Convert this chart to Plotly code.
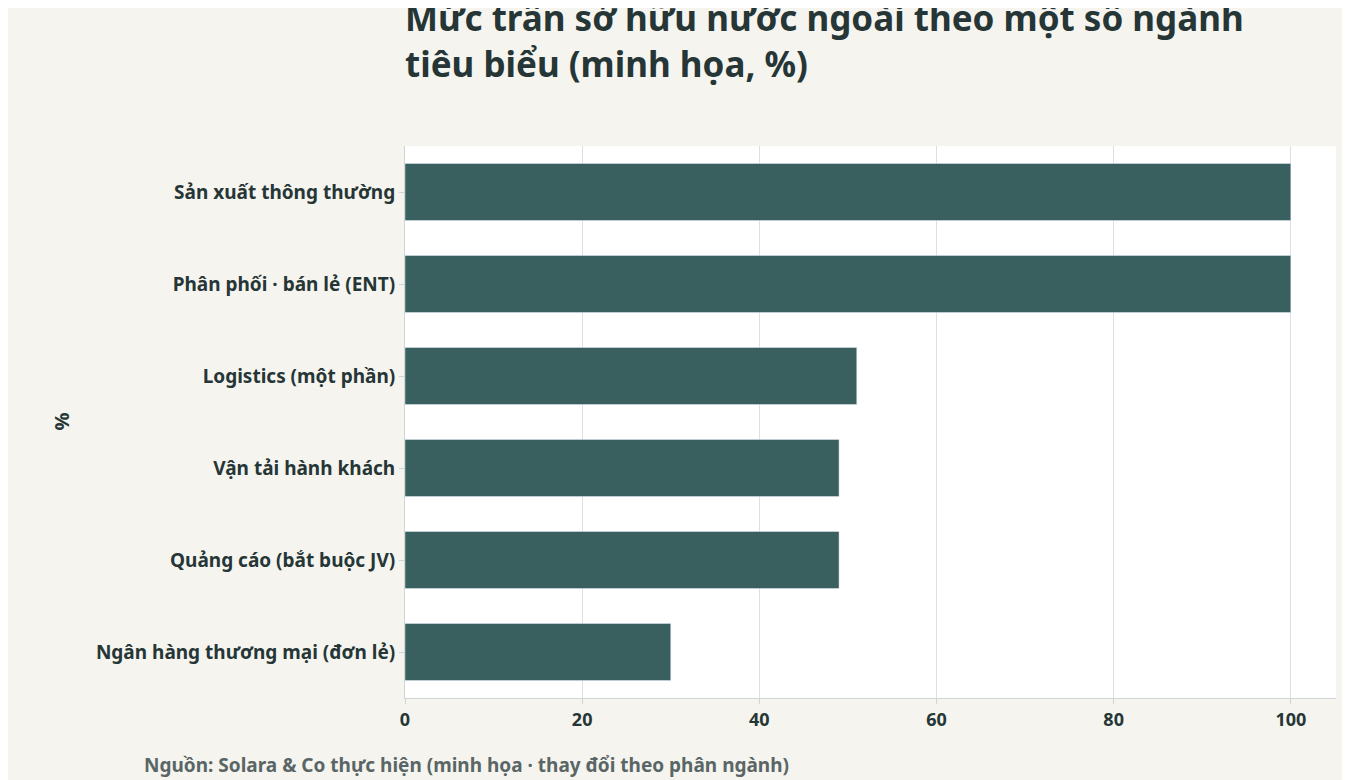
import plotly.graph_objects as go

categories = ["Ngân hàng thương mại (đơn lẻ)", "Quảng cáo (bắt buộc JV)", "Vận tải hành khách",
              "Logistics (một phần)", "Phân phối · bán lẻ (ENT)", "Sản xuất thông thường"]
values = [30, 49, 49, 51, 100, 100]

font = "Noto Sans, Open Sans, sans-serif"
ink = "#263636"

fig = go.Figure(go.Bar(x=values, y=categories, orientation="h",
                       marker_color="#3a5f5f", width=0.62))
fig.update_layout(
    width=1350, height=780,
    paper_bgcolor="#f5f4ef", plot_bgcolor="white",
    margin=dict(l=397, r=22, t=138, b=90),
    font=dict(family=font, color=ink, size=19),
    title=dict(text="<b>Mức trần sở hữu nước ngoài theo một số ngành<br>tiêu biểu (minh họa, %)</b>",
               x=397 / 1350, xanchor="left", y=0.97, yanchor="top",
               font=dict(size=35, color=ink)),
    showlegend=False,
)
fig.update_xaxes(range=[0, 105.1], dtick=20, showgrid=True, gridcolor="#dde0e0",
                 zeroline=False, ticks="outside", ticklen=5, tickcolor="#cfd4d4",
                 showline=True, linecolor="#cfd4d4",
                 tickfont=dict(size=18, color=ink, family=font), tickprefix="<b>", ticksuffix="</b>")
fig.update_yaxes(ticks="outside", ticklen=5, tickcolor="#cfd4d4", showline=True, linecolor="#cfd4d4",
                 tickfont=dict(size=19, color=ink), tickprefix="<b>", ticksuffix="</b>",
                 title=dict(text="<b>%</b>", font=dict(size=20), standoff=0))
fig.add_annotation(text="<b>Nguồn: Solara & Co thực hiện (minh họa · thay đổi theo phân ngành)</b>",
                   xref="paper", yref="paper", x=-397 / 1308 + 27 / 1308, y=-0.095,
                   xanchor="left", yanchor="top", showarrow=False,
                   font=dict(size=19, color="#5a6666"))
fig.add_annotation(text="<b>%</b>", xref="paper", yref="paper", x=-360 / 931, y=0.5,
                   textangle=-90, showarrow=False, font=dict(size=20, color=ink))
fig.update_yaxes(title_text="")
fig.write_html("out.html")
